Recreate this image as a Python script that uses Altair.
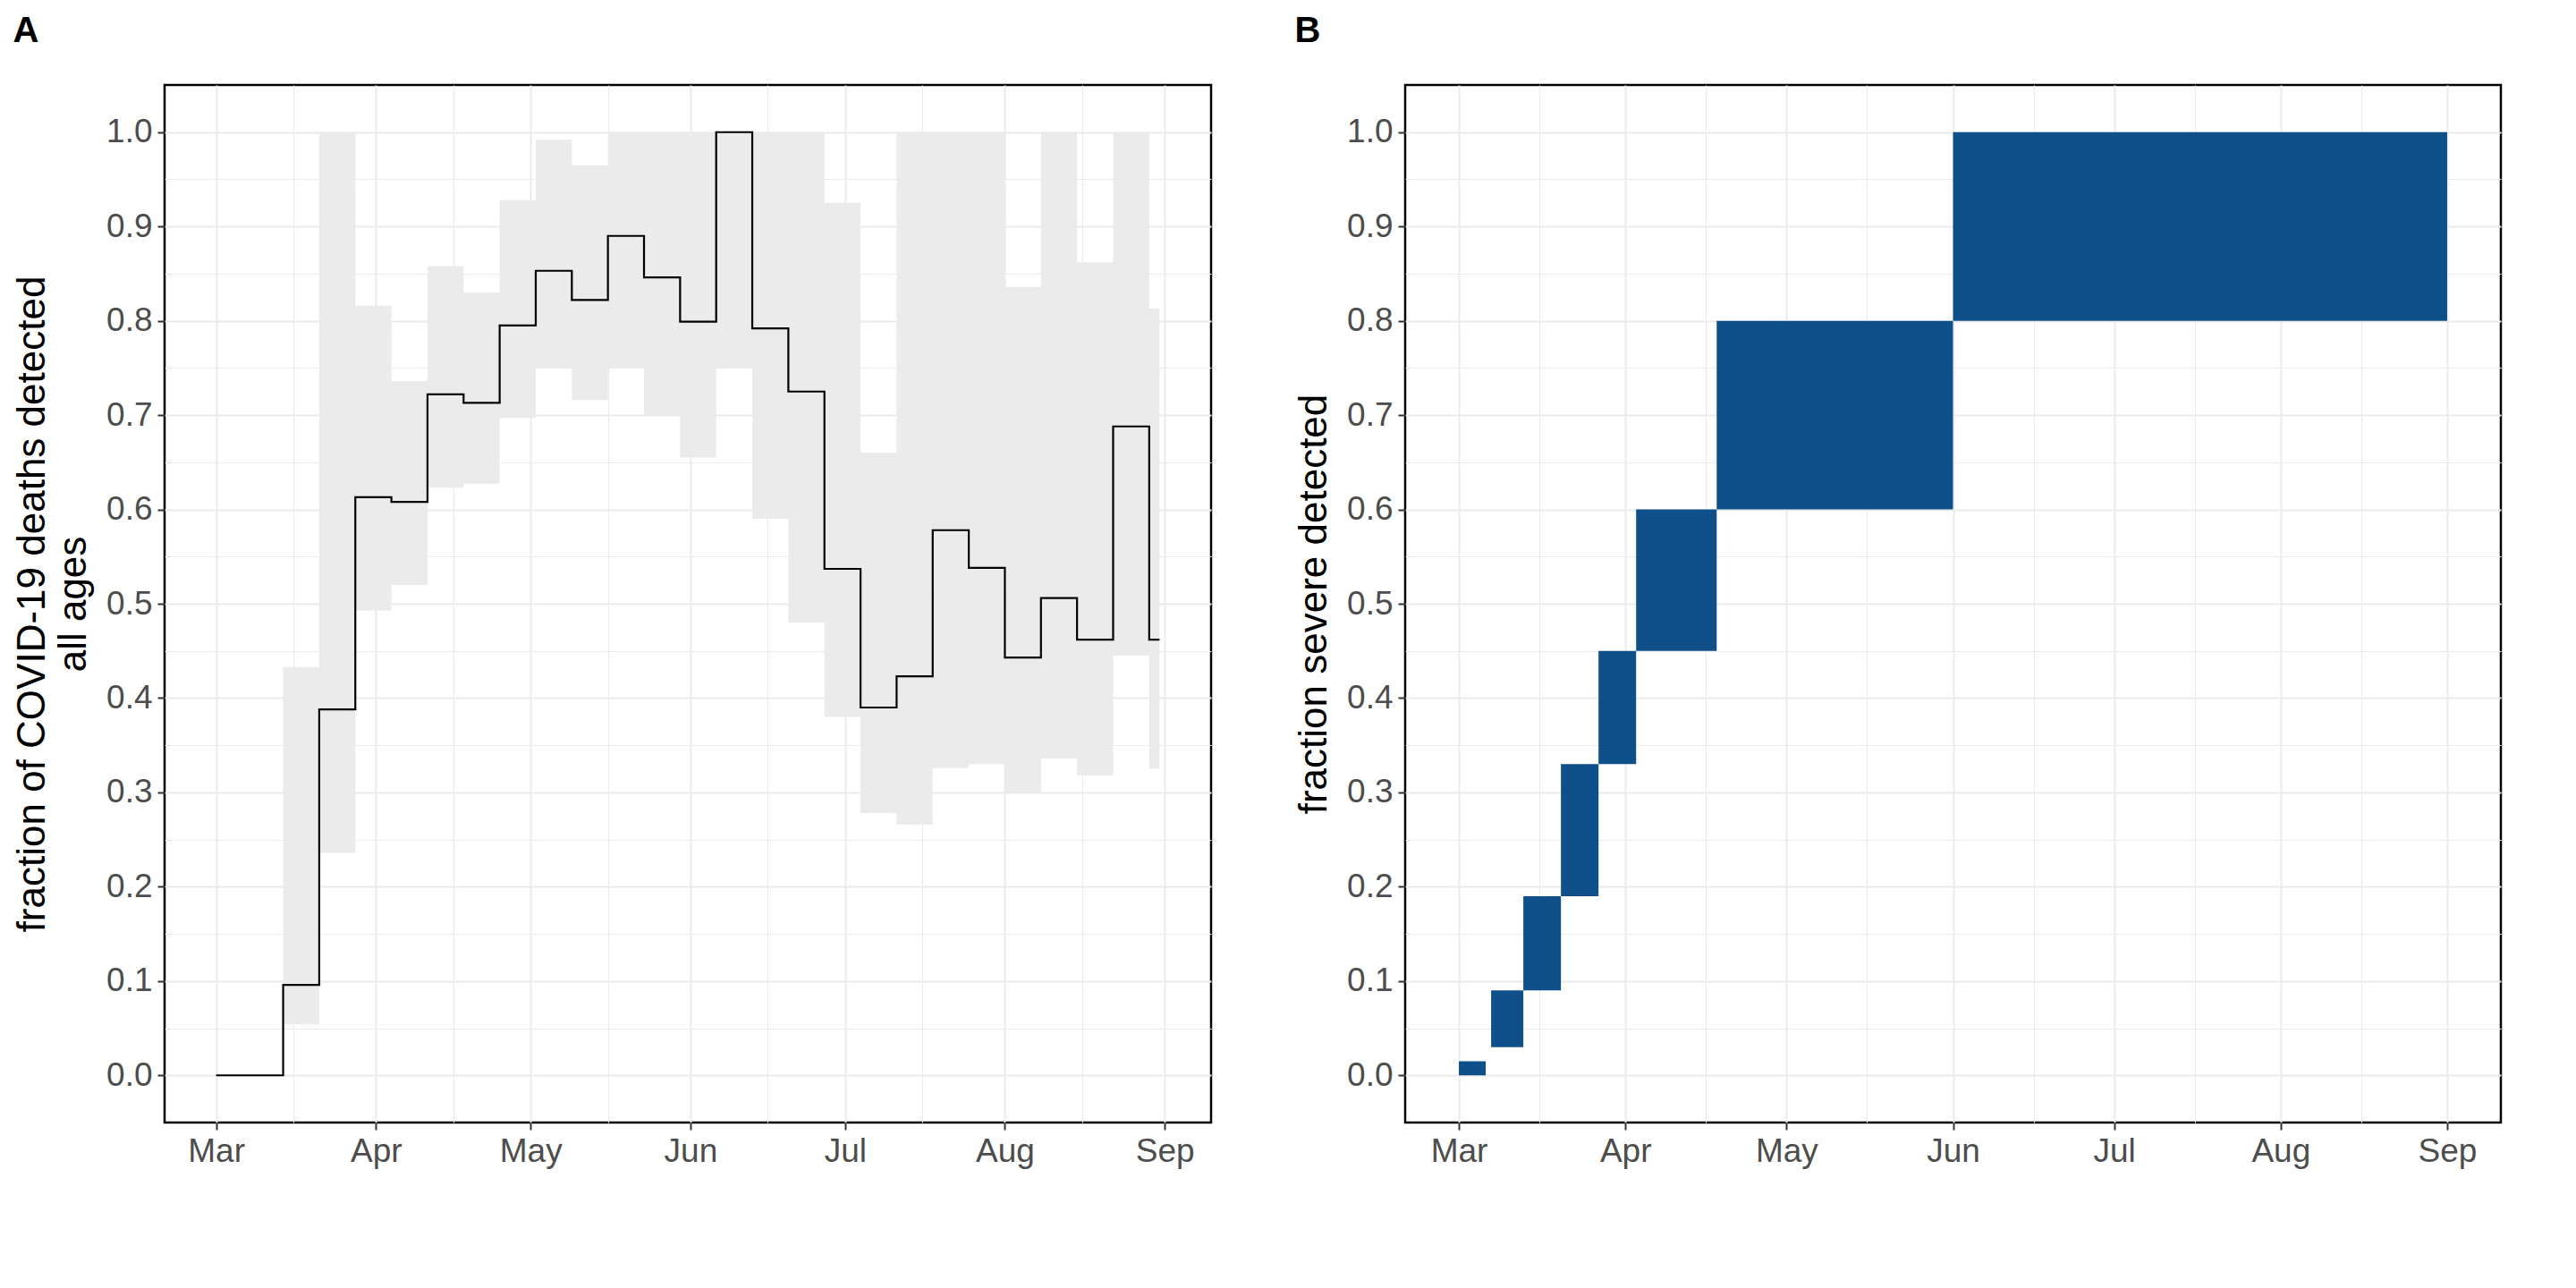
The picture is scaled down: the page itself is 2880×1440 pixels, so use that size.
import altair as alt
import pandas as pd

# Panel A: weekly step estimate with uncertainty ribbon
week_start = ["2020-03-14", "2020-03-21", "2020-03-28", "2020-04-04", "2020-04-11", "2020-04-18",
              "2020-04-25", "2020-05-02", "2020-05-09", "2020-05-16", "2020-05-23", "2020-05-30",
              "2020-06-06", "2020-06-13", "2020-06-20", "2020-06-27", "2020-07-04", "2020-07-11",
              "2020-07-18", "2020-07-25", "2020-08-01", "2020-08-08", "2020-08-15", "2020-08-22",
              "2020-08-29"]
frac = [0.096, 0.388, 0.613, 0.608, 0.722, 0.713, 0.795, 0.853, 0.822, 0.890, 0.846, 0.799,
        1.000, 0.792, 0.725, 0.537, 0.390, 0.423, 0.578, 0.538, 0.443, 0.506, 0.462, 0.688, 0.462]
lower = [0.054, 0.236, 0.493, 0.520, 0.623, 0.627, 0.697, 0.750, 0.716, 0.750, 0.700, 0.655,
         0.750, 0.590, 0.480, 0.380, 0.278, 0.266, 0.326, 0.330, 0.300, 0.336, 0.318, 0.445, 0.325]
upper = [0.433, 1.000, 0.816, 0.736, 0.858, 0.830, 0.928, 0.992, 0.965, 1.000, 1.000, 1.000,
         1.000, 1.000, 1.000, 0.925, 0.660, 1.000, 1.000, 1.000, 0.836, 1.000, 0.862, 1.000, 0.813]
series_start, series_end = "2020-03-01", "2020-08-31"

# Panel B: fraction severe detected, blocks
blk_from = ["2020-03-01", "2020-03-07", "2020-03-13", "2020-03-20", "2020-03-27", "2020-04-03",
            "2020-04-18", "2020-06-01"]
blk_to = ["2020-03-06", "2020-03-13", "2020-03-20", "2020-03-27", "2020-04-03", "2020-04-18",
          "2020-06-01", "2020-09-01"]
blk_lo = [0.0, 0.03, 0.09, 0.19, 0.33, 0.45, 0.60, 0.80]
blk_hi = [0.015, 0.09, 0.19, 0.33, 0.45, 0.60, 0.80, 1.00]

line_df = pd.DataFrame({
    "date": [series_start] + week_start + [series_end],
    "frac": [0.0] + frac + [frac[-1]],
})
band_df = pd.DataFrame({
    "date": week_start + [series_end],
    "lower": lower + [lower[-1]],
    "upper": upper + [upper[-1]],
})
blk_df = pd.DataFrame({"start": blk_from, "end": blk_to, "lo": blk_lo, "hi": blk_hi})

months = [3, 4, 5, 6, 7, 8, 9]
x_vals = []
for m in months:
    x_vals.append(alt.DateTime(year=2020, month=m, date=1, utc=True))
    if m < 9:
        x_vals.append(alt.DateTime(year=2020, month=m, date=16, utc=True))
y_vals = [round(i * 0.05, 2) for i in range(21)]

minor_x = "utcdate(datum.value) != 1"
minor_y = "round(datum.value * 100) % 10 != 0"


def x_axis():
    return alt.Axis(
        values=x_vals, title=None, grid=True, domain=False,
        labelExpr="utcdate(datum.value) == 1 ? utcFormat(datum.value, '%b') : ''",
        gridColor="#ebebeb",
        gridWidth=alt.condition(minor_x, alt.value(1), alt.value(2)),
        tickOpacity=alt.condition(minor_x, alt.value(0), alt.value(1)),
        tickColor="#333333", tickWidth=2, tickSize=8,
        labelFontSize=37, labelColor="#4d4d4d", labelFont="Liberation Sans", labelPadding=6,
    )


def y_axis(title):
    return alt.Axis(
        values=y_vals, title=title, grid=True, domain=False,
        labelExpr="round(datum.value * 100) % 10 == 0 ? format(datum.value, '.1f') : ''",
        gridColor="#ebebeb",
        gridWidth=alt.condition(minor_y, alt.value(1), alt.value(2)),
        tickOpacity=alt.condition(minor_y, alt.value(0), alt.value(1)),
        tickColor="#333333", tickWidth=2, tickSize=8,
        labelFontSize=37, labelColor="#4d4d4d", labelFont="Liberation Sans", labelPadding=6,
        titleFontSize=44, titleFontWeight="normal", titleFont="Liberation Sans",
        titleColor="black", titlePadding=14,
    )


x_scale_a = alt.Scale(type="utc", domain=["2020-02-20", "2020-09-10"], nice=False)
x_scale_b = alt.Scale(type="utc", domain=["2020-02-20", "2020-09-11"], nice=False)
y_scale = alt.Scale(domain=[-0.05, 1.05], nice=False, zero=False)
frame = alt.ViewBackground(stroke="black", strokeWidth=2.5)

band = alt.Chart(band_df).mark_area(interpolate="step-after", color="#ebebeb", opacity=1).encode(
    x=alt.X("date:T", scale=x_scale_a, axis=x_axis()),
    y=alt.Y("lower:Q", scale=y_scale,
            axis=y_axis(["fraction of COVID-19 deaths detected", "all ages"])),
    y2="upper:Q",
)
line = alt.Chart(line_df).mark_line(interpolate="step-after", color="black", strokeWidth=2.2).encode(
    x="date:T", y="frac:Q",
)
title_style = dict(anchor="start", frame="bounds", fontSize=40, fontWeight="bold",
                   font="Liberation Sans", offset=40)
panel_a = (band + line).properties(
    width=1170, height=1160, view=frame, title=alt.TitleParams("A", **title_style))

panel_b = alt.Chart(blk_df).mark_rect(color="#10508a").encode(
    x=alt.X("start:T", scale=x_scale_b, axis=x_axis()),
    x2="end:T",
    y=alt.Y("lo:Q", scale=y_scale, axis=y_axis("fraction severe detected")),
    y2="hi:Q",
).properties(width=1225, height=1160, view=frame, title=alt.TitleParams("B", **title_style))

chart = (
    alt.hconcat(panel_a, panel_b, spacing=90)
    .configure_view(stroke="black", strokeWidth=2.5)
    .configure(background="white")
)
chart.save("out.html", embed_options={"renderer": "svg", "actions": False})
